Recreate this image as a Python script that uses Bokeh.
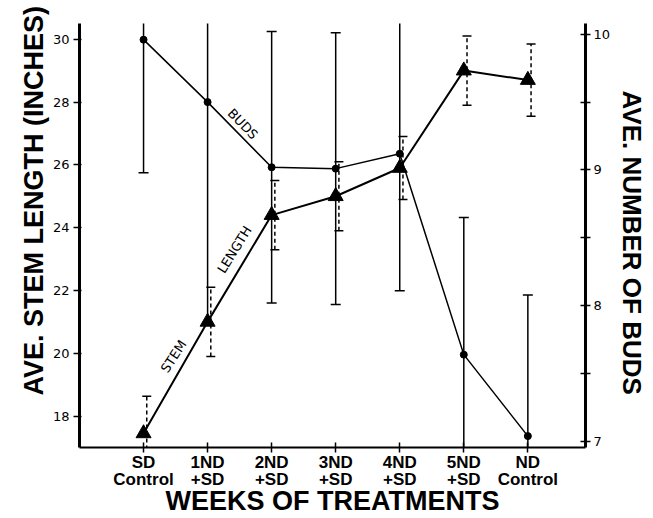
from bokeh.plotting import figure
from bokeh.models import (Range1d, LinearAxis, FixedTicker, ColumnDataSource, Title)
from bokeh.transform import dodge
from bokeh.core.properties import value
from bokeh.embed import file_html
from bokeh.resources import INLINE
import math

# ---- data ----
categories = ["SD\nControl", "1ND\n+SD", "2ND\n+SD", "3ND\n+SD", "4ND\n+SD", "5ND\n+SD", "ND\nControl"]
positions = [0, 1, 2, 3, 4, 5, 6]
buds = [9.96, 9.50, 9.02, 9.01, 9.12, 7.64, 7.04]          # right axis
buds_err = [0.98, 1.62, 1.00, 1.00, 1.01, 1.01, 1.04]
stem = [17.45, 21.0, 24.4, 25.0, 25.9, 29.0, 28.7]          # left axis (inches)
stem_err = [1.18, 1.10, 1.10, 1.10, 1.00, 1.10, 1.15]
left_ticks = [18, 20, 22, 24, 26, 28, 30]
right_ticks = [7, 7.5, 8, 8.5, 9, 9.5, 10]

bsrc = ColumnDataSource(dict(x=positions, y=buds,
                             lo=[b - e for b, e in zip(buds, buds_err)],
                             hi=[b + e for b, e in zip(buds, buds_err)]))
ssrc = ColumnDataSource(dict(x=positions, y=stem,
                             lo=[s - e for s, e in zip(stem, stem_err)],
                             hi=[s + e for s, e in zip(stem, stem_err)]))

p = figure(width=653, height=518, output_backend="svg", toolbar_location=None,
           x_range=Range1d(-1.0, 6.9), y_range=Range1d(17.0, 30.5),
           min_border_left=79, min_border_right=68, min_border_top=23, min_border_bottom=69)
p.extra_y_ranges = {"buds": Range1d(6.956, 10.079)}
p.outline_line_color = None
p.xgrid.visible = False
p.ygrid.visible = False
p.background_fill_color = "white"
p.border_fill_color = "white"

tick_font = "DejaVu Sans"
title_font = "Liberation Sans"

# x axis
xa = p.xaxis[0]
xa.ticker = FixedTicker(ticks=positions)
xa.major_label_overrides = {i: c for i, c in zip(positions, categories)}
xa.major_label_text_font = "Liberation Sans"
xa.major_label_text_font_style = "bold"
xa.major_label_text_font_size = "17px"
xa.major_label_text_color = "black"
xa.major_label_text_line_height = 0.9
xa.major_label_standoff = 0
xa.axis_label = "WEEKS OF TREATMENTS"
xa.axis_label_text_font = title_font
xa.axis_label_text_font_style = "bold"
xa.axis_label_text_font_size = "27px"
xa.axis_label_text_color = "black"
xa.axis_label_standoff = -6
xa.axis_line_width = 2
xa.axis_line_color = "black"
xa.major_tick_in = 5
xa.major_tick_out = 5
xa.major_tick_line_width = 1.5
xa.minor_tick_line_color = None

# left axis
ya = p.yaxis[0]
ya.ticker = FixedTicker(ticks=left_ticks)
ya.major_label_text_font = tick_font
ya.major_label_text_font_size = "13px"
ya.major_label_text_color = "black"
ya.major_label_standoff = 4
ya.axis_line_width = 3
ya.major_tick_in = 2
ya.major_tick_out = 6
ya.major_tick_line_width = 1.5
ya.minor_tick_line_color = None

# right axis
ra = LinearAxis(y_range_name="buds")
ra.ticker = FixedTicker(ticks=right_ticks)
ra.major_label_overrides = {7.5: "", 8.5: "", 9.5: ""}
ra.major_label_text_font = tick_font
ra.major_label_text_font_size = "13px"
ra.major_label_text_color = "black"
ra.major_label_standoff = 3
ra.axis_line_width = 3
ra.major_tick_in = 5
ra.major_tick_out = 5
ra.major_tick_line_width = 1.5
ra.minor_tick_line_color = None
p.add_layout(ra, "right")

# vertical axis titles (as titles so they can be shifted along the axis like the original)
p.add_layout(Title(text="AVE. STEM LENGTH (INCHES)", align="left", offset=52,
                   text_font=title_font, text_font_style="bold", text_font_size="27px",
                   text_color="black", standoff=2), "left")
p.add_layout(Title(text="AVE. NUMBER OF BUDS", align="left", offset=67,
                   text_font=title_font, text_font_style="bold", text_font_size="26px",
                   text_color="black", standoff=6), "right")

# ---- stem length (left axis): dashed error bars, triangles ----
sx = dodge("x", 0.05, range=p.x_range)
p.segment(x0=sx, y0="lo", x1=sx, y1="hi", source=ssrc, line_color="black",
          line_width=1.5, line_dash="4 3")
p.scatter(x=sx, y="hi", source=ssrc, marker="dash", size=9, line_color="black", line_width=1.5)
p.scatter(x=sx, y="lo", source=ssrc, marker="dash", size=9, line_color="black", line_width=1.5)
p.line(x="x", y="y", source=ssrc, line_color="black", line_width=2)
p.scatter(x="x", y="y", source=ssrc, marker="triangle", size=15, fill_color="black",
          line_color="black")

# ---- buds (right axis): solid error bars, dots ----
p.segment(x0="x", y0="lo", x1="x", y1="hi", source=bsrc, line_color="black",
          line_width=1.5, y_range_name="buds")
p.scatter(x="x", y="hi", source=bsrc, marker="dash", size=10, line_color="black",
          line_width=1.5, y_range_name="buds")
p.scatter(x="x", y="lo", source=bsrc, marker="dash", size=10, line_color="black",
          line_width=1.5, y_range_name="buds")
p.line(x="x", y="y", source=bsrc, line_color="black", line_width=1.5, y_range_name="buds")
p.scatter(x="x", y="y", source=bsrc, marker="circle", size=7, fill_color="black",
          line_color="black", y_range_name="buds")

# ---- in-plot labels ----
p.text(x=[1.55], y=[27.3], text=["BUDS"], angle=math.radians(-46),
       text_font=value("DejaVu Sans"), text_font_size="13px", text_align="center",
       text_baseline="middle", text_color="black")
p.text(x=[0.47], y=[19.9], text=["STEM"], angle=math.radians(57),
       text_font=value("DejaVu Sans"), text_font_size="13px", text_align="center",
       text_baseline="middle", text_color="black")
p.text(x=[1.42], y=[23.3], text=["LENGTH"], angle=math.radians(58),
       text_font=value("DejaVu Sans"), text_font_size="13px", text_align="center",
       text_baseline="middle", text_color="black")

open("out.html", "w").write(file_html(p, INLINE))
